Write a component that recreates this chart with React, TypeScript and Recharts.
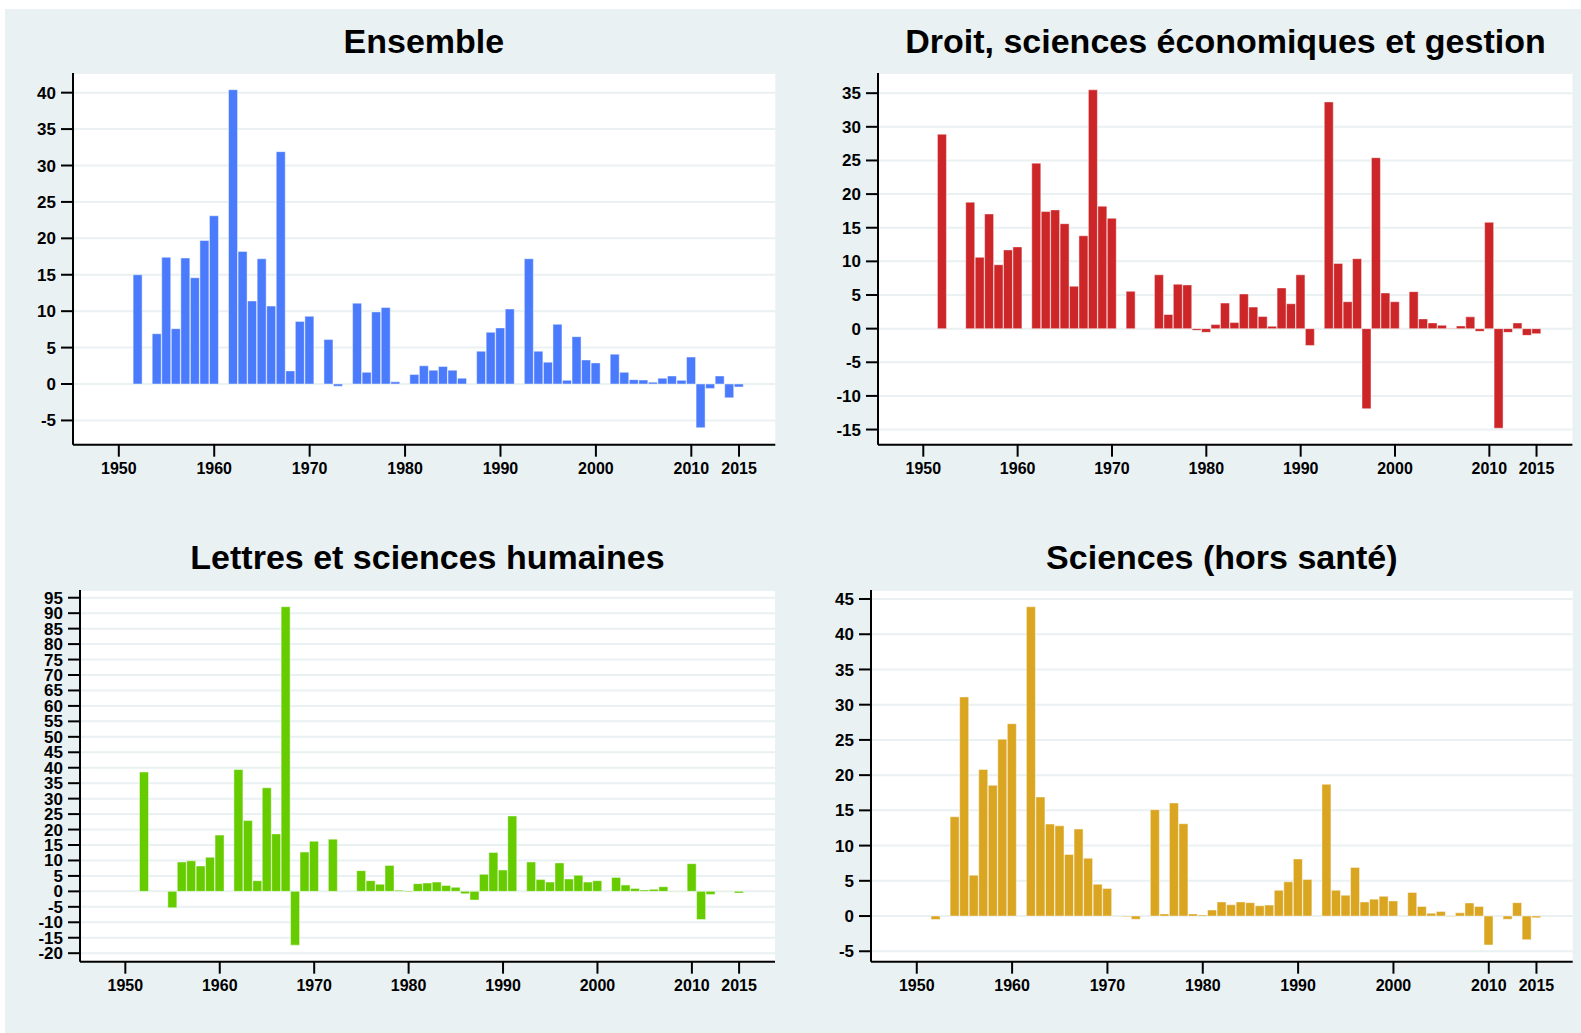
import React from 'react';
import { BarChart, Bar, XAxis, YAxis, CartesianGrid } from 'recharts';

// Years 1950..2015
const years: number[] = Array.from({ length: 66 }, (_, i) => 1950 + i);

const ensemble: (number | null)[] = [
  null, null, 15.0, null, 6.9, 17.4, 7.6, 17.3, 14.6, 19.7,
  23.1, null, 40.4, 18.2, 11.4, 17.2, 10.7, 31.9, 1.8, 8.6,
  9.3, null, 6.1, -0.3, null, 11.1, 1.6, 9.9, 10.5, 0.3,
  null, 1.3, 2.5, 1.9, 2.4, 1.9, 0.8, null, 4.5, 7.1,
  7.7, 10.3, null, 17.2, 4.5, 3.0, 8.2, 0.5, 6.5, 3.3,
  2.9, null, 4.1, 1.6, 0.6, 0.55, 0.25, 0.8, 1.1, 0.5,
  3.7, -6.0, -0.6, 1.1, -1.9, -0.4,
];

const droit: (number | null)[] = [
  null, null, 28.9, null, null, 18.8, 10.6, 17.05, 9.5, 11.7,
  12.15, null, 24.6, 17.4, 17.65, 15.6, 6.3, 13.8, 35.5, 18.2,
  16.4, null, 5.55, null, null, 8.0, 2.1, 6.6, 6.5, -0.25,
  -0.55, 0.6, 3.8, 0.9, 5.15, 3.2, 1.8, 0.35, 6.05, 3.7,
  8.0, -2.5, null, 33.7, 9.7, 4.0, 10.4, -11.9, 25.4, 5.3,
  4.0, null, 5.5, 1.45, 0.85, 0.5, 0.05, 0.4, 1.75, -0.4,
  15.8, -14.8, -0.55, 0.85, -1.0, -0.75,
];

const lettres: (number | null)[] = [
  null, null, 38.6, null, null, -5.3, 9.5, 9.9, 8.2, 11.0,
  18.2, null, 39.4, 22.9, 3.45, 33.5, 18.6, 92.1, -17.4, 12.7,
  16.2, null, 16.9, null, null, 6.7, 3.45, 2.3, 8.4, 0.4,
  -0.2, 2.5, 2.7, 3.0, 1.9, 1.3, -0.75, -2.8, 5.5, 12.6,
  6.9, 24.4, null, 9.5, 3.8, 3.0, 9.2, 4.0, 5.2, 3.0,
  3.45, null, 4.5, 2.05, 0.95, 0.45, 0.65, 1.5, 0.1, 0.1,
  8.95, -9.1, -1.0, 0.15, 0.1, -0.55,
];

const sciences: (number | null)[] = [
  null, null, -0.5, null, 14.1, 31.1, 5.8, 20.8, 18.55, 25.1,
  27.3, null, 43.9, 16.9, 13.05, 12.8, 8.75, 12.35, 8.2, 4.5,
  3.9, null, -0.1, -0.45, null, 15.1, 0.3, 16.05, 13.1, 0.3,
  0.15, 0.85, 2.0, 1.6, 2.0, 1.9, 1.45, 1.55, 3.65, 4.85,
  8.1, 5.2, null, 18.7, 3.65, 2.95, 6.9, 2.0, 2.4, 2.8,
  2.15, null, 3.35, 1.35, 0.4, 0.65, -0.05, 0.45, 1.85, 1.35,
  -4.1, null, -0.45, 1.9, -3.35, -0.25,
];

const xTicks: number[] = [1950, 1960, 1970, 1980, 1990, 2000, 2010, 2015];
const yTicksEnsemble: number[] = [-5, 0, 5, 10, 15, 20, 25, 30, 35, 40];
const yTicksDroit: number[] = [-15, -10, -5, 0, 5, 10, 15, 20, 25, 30, 35];
const yTicksLettres: number[] = [-20, -15, -10, -5, 0, 5, 10, 15, 20, 25, 30, 35, 40, 45, 50, 55, 60, 65, 70, 75, 80, 85, 90, 95];
const yTicksSciences: number[] = [-5, 0, 5, 10, 15, 20, 25, 30, 35, 40, 45];

const titles: string[] = [
  'Ensemble',
  'Droit, sciences économiques et gestion',
  'Lettres et sciences humaines',
  'Sciences (hors santé)',
];

const FONT = '"Liberation Sans", Arial, Helvetica, sans-serif';
const BG = '#e9f1f3';
const GRID = '#e9f1f3';
const X_DOMAIN: [number, number] = [1945.2, 2018.8];

const toData = (vals: (number | null)[]) => years.map((y, i) => ({ year: y, value: vals[i] }));

type PanelProps = {
  title: string;
  vals: (number | null)[];
  color: string;
  yDomain: [number, number];
  yTicks: number[];
  x0: number;
  x1: number;
  y0: number;
  y1: number;
};

function Panel({ vals, color, yDomain, yTicks, x0, x1, y0, y1 }: PanelProps) {
  const yW = 70;
  const mt = 10;
  const mr = 5;
  const xH = 40;
  const width = x1 - x0 + yW + mr;
  const height = y1 - y0 + mt + xH;
  const data = toData(vals);
  return (
    <div style={{ position: 'absolute', left: x0 - yW, top: y0 - mt }}>
      <BarChart width={width} height={height} data={data} margin={{ top: mt, right: mr, bottom: 0, left: 0 }}>
        <CartesianGrid vertical={false} stroke={GRID} strokeWidth={2} fill="#ffffff" />
        <XAxis
          type="number"
          dataKey="year"
          domain={X_DOMAIN}
          ticks={xTicks}
          interval={0}
          allowDataOverflow
          height={xH}
          tickSize={12}
          tickMargin={6}
          axisLine={{ stroke: '#000', strokeWidth: 2 }}
          tickLine={{ stroke: '#000', strokeWidth: 2 }}
          tick={{ fill: '#000', fontSize: 16, fontWeight: 700, fontFamily: FONT }}
        />
        <YAxis
          type="number"
          width={yW}
          domain={yDomain}
          ticks={yTicks}
          interval={0}
          allowDataOverflow
          tickSize={12}
          tickMargin={5}
          axisLine={{ stroke: '#000', strokeWidth: 2 }}
          tickLine={{ stroke: '#000', strokeWidth: 2 }}
          tick={{ fill: '#000', fontSize: 17, fontWeight: 700, fontFamily: FONT }}
        />
        <Bar
          dataKey="value"
          fill={color}
          stroke="rgba(255,255,255,0.45)"
          strokeWidth={1}
          barSize={9}
          isAnimationActive={false}
        />
      </BarChart>
    </div>
  );
}

export default function App() {
  const panels = [
    { title: titles[0], vals: ensemble, color: '#4b7bfd', yDomain: [-8.33, 42.7] as [number, number], yTicks: yTicksEnsemble, x0: 72.7, x1: 775, y0: 73.3, y1: 445, tb: 52.5 },
    { title: titles[1], vals: droit, color: '#cd2629', yDomain: [-17.25, 38.0] as [number, number], yTicks: yTicksDroit, x0: 878.3, x1: 1572.7, y0: 73.3, y1: 445, tb: 52.5 },
    { title: titles[2], vals: lettres, color: '#66cc00', yDomain: [-22.75, 97.5] as [number, number], yTicks: yTicksLettres, x0: 80, x1: 775, y0: 590, y1: 961.7, tb: 569 },
    { title: titles[3], vals: sciences, color: '#daa520', yDomain: [-6.48, 46.28] as [number, number], yTicks: yTicksSciences, x0: 871, x1: 1572.7, y0: 590, y1: 961.7, tb: 569 },
  ];
  return (
    <div style={{ position: 'absolute', left: 0, top: 0, width: 1581, height: 1033, background: '#ffffff', overflow: 'hidden' }}>
      <div style={{ position: 'absolute', left: 5, top: 9, width: 1576, height: 1024, background: BG }} />
      <svg width={1581} height={1033} style={{ position: 'absolute', left: 0, top: 0 }}>
        {panels.map((p) => (
          <text
            key={p.title}
            x={(p.x0 + p.x1) / 2}
            y={p.tb}
            textAnchor="middle"
            fontFamily={FONT}
            fontWeight={700}
            fontSize={34}
            fill="#000"
          >
            {p.title}
          </text>
        ))}
      </svg>
      {panels.map((p) => (
        <Panel
          key={p.title}
          title={p.title}
          vals={p.vals}
          color={p.color}
          yDomain={p.yDomain}
          yTicks={p.yTicks}
          x0={p.x0}
          x1={p.x1}
          y0={p.y0}
          y1={p.y1}
        />
      ))}
    </div>
  );
}
